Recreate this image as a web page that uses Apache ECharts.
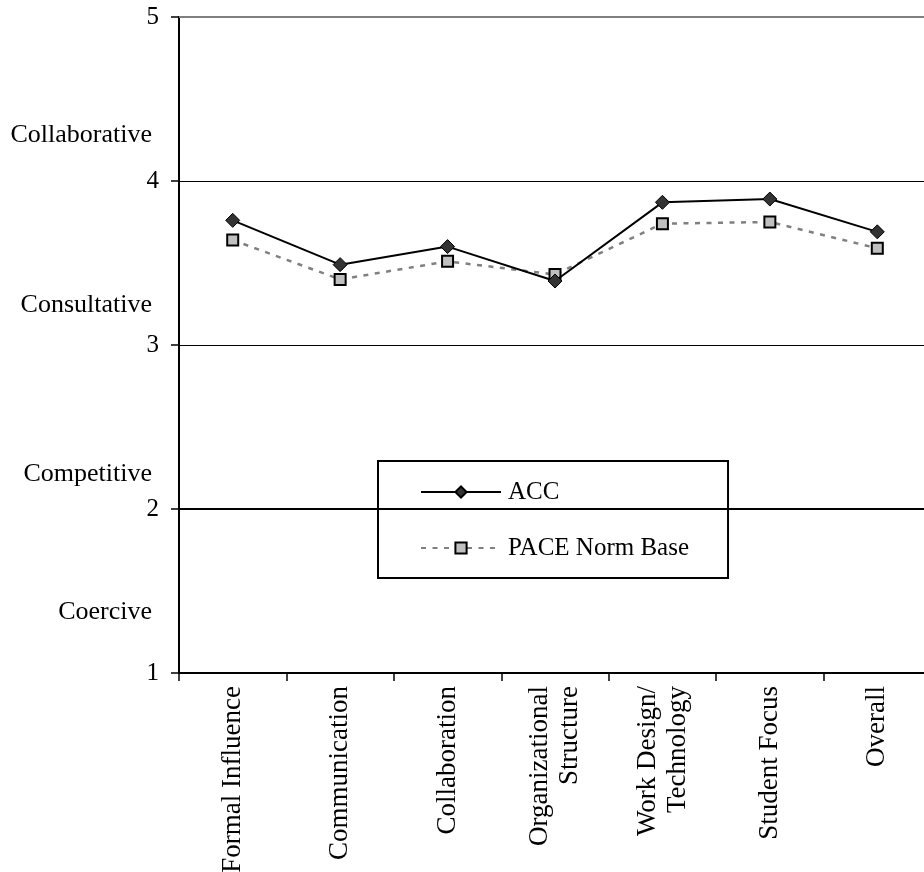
<!DOCTYPE html>
<html>
<head>
<meta charset="utf-8">
<script src="https://cdn.jsdelivr.net/npm/echarts@6/dist/echarts.min.js"></script>
<style>
html,body{margin:0;padding:0;background:#fff;}
#chart{width:924px;height:872px;}
</style>
</head>
<body>
<div id="chart"></div>
<script>
var categories = ['Formal Influence', 'Communication', 'Collaboration', 'Organizational\nStructure', 'Work Design/\nTechnology', 'Student Focus', 'Overall'];
var accValues = [3.76, 3.49, 3.60, 3.39, 3.87, 3.89, 3.69];
var paceValues = [3.64, 3.40, 3.51, 3.43, 3.74, 3.75, 3.59];
var yTicks = [1, 2, 3, 4, 5];
var levelNames = ['Coercive', 'Competitive', 'Consultative', 'Collaborative'];
var levelPositions = [1.37, 2.21, 3.24, 4.28];

var FONT = "'Liberation Serif', 'Times New Roman', serif";
var chart = echarts.init(document.getElementById('chart'), null, {renderer: 'canvas'});

var option = {
  animation: false,
  backgroundColor: '#ffffff',
  textStyle: {fontFamily: FONT, color: '#000'},
  grid: {left: 179, top: 17, width: 752, height: 656, containLabel: false, outerBoundsMode: 'none'},
  legend: {
    orient: 'vertical',
    left: 378,
    top: 461,
    padding: [16, 39, 15, 42],
    itemGap: 26,
    itemWidth: 80,
    itemHeight: 14,
    backgroundColor: '#ffffff',
    borderColor: '#000000',
    borderWidth: 2,
    borderRadius: 0,
    textStyle: {fontFamily: FONT, fontSize: 25, color: '#000', lineHeight: 30, padding: [0, 0, 0, 2]},
    data: ['ACC', 'PACE Norm Base']
  },
  xAxis: {
    type: 'category',
    data: categories,
    boundaryGap: true,
    axisLine: {show: true, lineStyle: {color: '#000', width: 2}},
    axisTick: {show: true, interval: 0, length: 8, lineStyle: {color: '#000', width: 1.5}},
    axisLabel: {
      interval: 0, rotate: 90, margin: 13,
      fontFamily: FONT, fontSize: 27, color: '#000', lineHeight: 30
    },
    splitLine: {show: false}
  },
  yAxis: [{
    type: 'value',
    min: 1, max: 5, interval: 1,
    axisLine: {show: true, lineStyle: {color: '#000', width: 2}},
    axisTick: {show: true, length: 8, lineStyle: {color: '#000', width: 1.5}},
    axisLabel: {
      margin: 20, fontFamily: FONT, fontSize: 25, color: '#000',
      formatter: function (v) { return yTicks.indexOf(v) >= 0 ? String(v) : ''; }
    },
    splitLine: {show: true, lineStyle: {color: '#000', width: 1}}
  }, {
    type: 'value',
    position: 'left',
    min: 1, max: 5,
    axisLine: {show: false},
    axisTick: {show: false},
    splitLine: {show: false},
    axisLabel: {
      customValues: levelPositions,
      margin: 27, fontFamily: FONT, fontSize: 26, color: '#000',
      formatter: function (v) {
        for (var i = 0; i < levelPositions.length; i++) {
          if (Math.abs(levelPositions[i] - v) < 1e-6) return levelNames[i];
        }
        return '';
      }
    }
  }],
  series: [{
    name: 'PACE Norm Base',
    type: 'line',
    data: paceValues,
    z: 3,
    symbol: 'rect',
    symbolSize: 11,
    lineStyle: {color: '#808080', width: 2.5, type: [5, 6.5]},
    itemStyle: {color: '#c0c0c0', borderColor: '#000', borderWidth: 2},
    markLine: {
      silent: true,
      symbol: 'none',
      label: {show: false},
      animation: false,
      data: [
        {yAxis: 2, lineStyle: {color: '#000', width: 2, type: 'solid'}},
        {yAxis: 5, lineStyle: {color: '#808080', width: 2, type: 'solid'}}
      ]
    }
  }, {
    name: 'ACC',
    type: 'line',
    data: accValues,
    z: 4,
    symbol: 'diamond',
    symbolSize: 14,
    lineStyle: {color: '#000', width: 2},
    itemStyle: {color: '#333333', borderColor: '#000', borderWidth: 1}
  }]
};
chart.setOption(option);
</script>
</body>
</html>
